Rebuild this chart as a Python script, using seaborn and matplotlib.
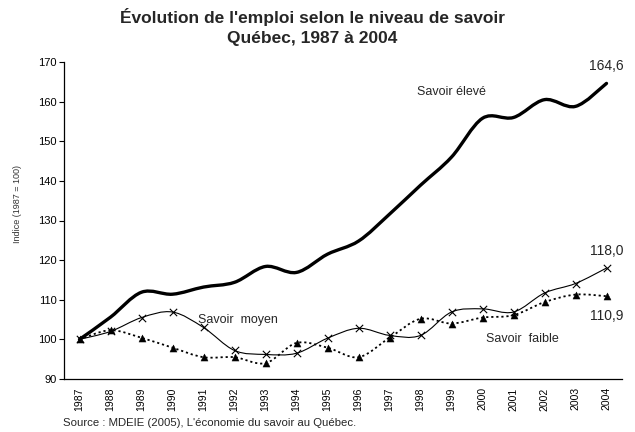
import numpy as np
import pandas as pd
import matplotlib
matplotlib.use("Agg")
import matplotlib.pyplot as plt
from matplotlib.path import Path
from matplotlib.patches import PathPatch
import seaborn as sns

years = list(range(1987, 2005))
eleve = [100.0, 105.6, 111.9, 111.4, 113.2, 114.4, 118.4, 116.9, 121.5, 124.8,
         131.6, 138.9, 146.0, 155.8, 156.0, 160.5, 158.8, 164.6]
moyen = [100.0, 102.0, 105.5, 106.9, 103.0, 97.2, 96.2, 96.5, 100.3, 102.8,
         101.0, 101.0, 106.9, 107.7, 106.9, 111.7, 114.1, 118.0]
faible = [100.0, 102.3, 100.4, 97.9, 95.5, 95.5, 94.0, 99.1, 97.9, 95.5,
          100.4, 105.2, 104.0, 105.5, 106.1, 109.4, 111.3, 110.9]
yticks = [90, 100, 110, 120, 130, 140, 150, 160, 170]

title1 = "Évolution de l'emploi selon le niveau de savoir"
title2 = "Québec, 1987 à 2004"
ylabel = "Indice (1987 = 100)"
source = "Source : MDEIE (2005), L'économie du savoir au Québec."

sns.set_theme(style="white")
plt.rcParams['font.family'] = ['Liberation Sans', 'DejaVu Sans']

fig = plt.figure(figsize=(6.35, 4.32), dpi=100)
ax = fig.add_axes([64 / 635, 1 - 379 / 432, (622 - 64) / 635, (379 - 62) / 432])


def smooth_path(xs, ys):
    xs = np.asarray(xs, float)
    ys = np.asarray(ys, float)
    pts = np.column_stack([xs, ys])
    n = len(pts)
    verts = [pts[0]]
    codes = [Path.MOVETO]
    for i in range(n - 1):
        p0 = pts[i - 1] if i > 0 else pts[i]
        p1 = pts[i]
        p2 = pts[i + 1]
        p3 = pts[i + 2] if i + 2 < n else pts[i + 1]
        c1 = p1 + (p2 - p0) / 6.0
        c2 = p2 - (p3 - p1) / 6.0
        verts += [c1, c2, p2]
        codes += [Path.CURVE4] * 3
    return Path(verts, codes)


df = pd.DataFrame({"annee": years, "eleve": eleve, "moyen": moyen, "faible": faible})

# smooth lines
ax.add_patch(PathPatch(smooth_path(years, eleve), fill=False, edgecolor="black",
                       linewidth=2.4, capstyle="round", joinstyle="round"))
ax.add_patch(PathPatch(smooth_path(years, moyen), fill=False, edgecolor="black",
                       linewidth=0.8))
ax.add_patch(PathPatch(smooth_path(years, faible), fill=False, edgecolor="black",
                       linewidth=1.3, linestyle=(0, (1.2, 1.6))))

# markers
sns.scatterplot(data=df, x="annee", y="moyen", marker="x", s=28, color="black",
                linewidth=0.8, ax=ax, zorder=3)
sns.scatterplot(data=df, x="annee", y="faible", marker="^", s=26, color="black",
                edgecolor="black", linewidth=0.3, ax=ax, zorder=3)

ax.set_xlim(years[0] - 0.5, years[-1] + 0.5)
ax.set_ylim(yticks[0], yticks[-1])
ax.set_yticks(yticks)
ax.set_xticks(years)
ax.set_xticklabels([str(y) for y in years], rotation=90, fontsize=7.5)
ax.tick_params(axis="y", labelsize=8, length=3.5, width=0.8, direction="out",
               left=True, pad=2, colors="black")
ax.tick_params(axis="x", length=0, pad=6, colors="black")
ax.set_xlabel("")
ax.set_ylabel(ylabel, fontsize=6.5, color="#333333")
ax.yaxis.set_label_coords(-0.075, 0.552)
for s in ["top", "right"]:
    ax.spines[s].set_visible(False)
for s in ["left", "bottom"]:
    ax.spines[s].set_color("black")
    ax.spines[s].set_linewidth(0.9)

# annotations
ax.text(1999.0, 162.4, "Savoir élevé", fontsize=9, ha="center", va="center")
ax.text(1992.1, 104.8, "Savoir  moyen", fontsize=9, ha="center", va="center")
ax.text(2001.3, 100.2, "Savoir  faible", fontsize=9, ha="center", va="center")
ax.text(2004.0, 169.0, "164,6", fontsize=10, ha="center", va="center", clip_on=False)
ax.text(2004.0, 122.4, "118,0", fontsize=10, ha="center", va="center", clip_on=False)
ax.text(2004.0, 106.0, "110,9", fontsize=10, ha="center", va="center", clip_on=False)

fig.text(312 / 635, 1 - 17 / 432, title1, fontsize=12.5, fontweight="bold",
         ha="center", va="center")
fig.text(312 / 635, 1 - 38 / 432, title2, fontsize=12.5, fontweight="bold",
         ha="center", va="center")
fig.text(63 / 635, 1 - 423 / 432, source, fontsize=8.2, ha="left", va="center")

fig.savefig("out.png", dpi=100)
